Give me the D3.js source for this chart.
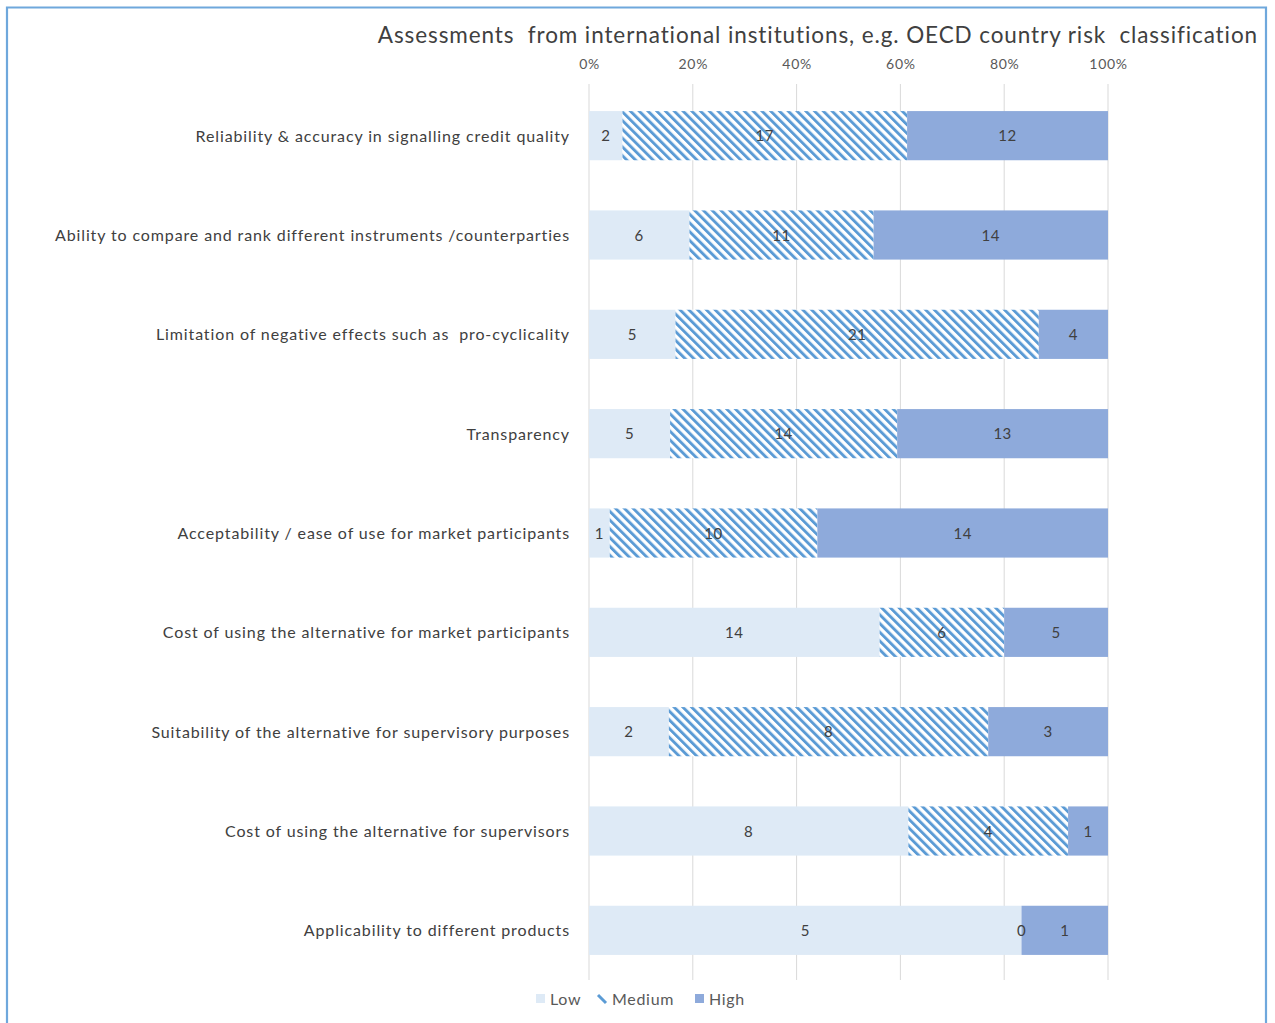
<!DOCTYPE html>
<html><head><meta charset="utf-8">
<script src="https://cdn.jsdelivr.net/npm/d3@7"></script>
<style>body{margin:0;background:#fff}svg{display:block}text{white-space:pre}</style>
</head><body>
<script>
const title = "Assessments  from international institutions, e.g. OECD country risk  classification";
const categories = [
  "Reliability & accuracy in signalling credit quality",
  "Ability to compare and rank different instruments /counterparties",
  "Limitation of negative effects such as  pro-cyclicality",
  "Transparency",
  "Acceptability / ease of use for market participants",
  "Cost of using the alternative for market participants",
  "Suitability of the alternative for supervisory purposes",
  "Cost of using the alternative for supervisors",
  "Applicability to different products"
];
const seriesNames = ["Low", "Medium", "High"];
const low =    [2, 6, 5, 5, 1, 14, 2, 8, 5];
const medium = [17, 11, 21, 14, 10, 6, 8, 4, 0];
const high =   [12, 14, 4, 13, 14, 5, 3, 1, 1];
const tickValues = [0, 0.2, 0.4, 0.6, 0.8, 1.0];
const tickLabels = ["0%", "20%", "40%", "60%", "80%", "100%"];

const W = 1275, H = 1023;
const svg = d3.select("body").append("svg").attr("width", W).attr("height", H);
const font = "Lato, 'Open Sans', sans-serif";

const defs = svg.append("defs");
const P = 6.2;
const pat = defs.append("pattern").attr("id", "hatch").attr("patternUnits", "userSpaceOnUse")
  .attr("width", P).attr("height", P).attr("patternTransform", "rotate(-45)");
pat.append("rect").attr("width", P).attr("height", P).attr("fill", "#fff");
pat.append("rect").attr("x", 0).attr("y", 0).attr("width", 2.9).attr("height", P).attr("fill", "#5B9BD5");

// border
svg.append("path").attr("d", `M7,${H+5} L7,7.5 L1266,7.5 L1266,${H+5}`)
  .attr("fill", "none").attr("stroke", "#6FA8DC").attr("stroke-width", 2.2);

const x = d3.scaleLinear().domain([0, 1]).range([589, 1108]);
const y = d3.scaleBand().domain(categories).range([86, 980]).paddingInner(0.505).paddingOuter(0.2525);

svg.append("text").attr("x", 1258).attr("y", 43).attr("text-anchor", "end")
  .attr("font-family", font).attr("font-size", 22.5).attr("letter-spacing", 0.9).attr("fill", "#404040").text(title);

// gridlines
svg.append("g").selectAll("line").data(tickValues).join("line")
  .attr("x1", d => x(d)).attr("x2", d => x(d)).attr("y1", 84).attr("y2", 980)
  .attr("stroke", "#D9D9D9").attr("stroke-width", 1);

// axis on top
const axis = d3.axisTop(x).tickValues(tickValues).tickFormat((d, i) => tickLabels[i]).tickSize(0).tickPadding(0);
const ag = svg.append("g").attr("transform", "translate(0,69)").call(axis);
ag.select(".domain").remove();
ag.selectAll("text").attr("font-family", font).attr("font-size", 14).attr("letter-spacing", 0.7).attr("fill", "#595959");

const rows = categories.map((c, i) => ({cat: c, vals: [low[i], medium[i], high[i]]}));
const fills = ["#DEEAF6", "url(#hatch)", "#8EAADB"];

rows.forEach(r => {
  const tot = d3.sum(r.vals);
  let acc = 0;
  r.segs = r.vals.map((v, k) => { const s = {k, v, x0: acc / tot, x1: (acc + v) / tot}; acc += v; return s; });
});

const g = svg.append("g");
const rg = g.selectAll("g.row").data(rows).join("g").attr("class", "row");
rg.selectAll("rect").data(r => r.segs.map(s => ({...s, cat: r.cat}))).join("rect")
  .attr("x", d => x(d.x0)).attr("width", d => x(d.x1) - x(d.x0))
  .attr("y", d => y(d.cat)).attr("height", y.bandwidth())
  .attr("fill", d => fills[d.k]);
rg.selectAll("text").data(r => r.segs.map(s => ({...s, cat: r.cat}))).join("text")
  .attr("x", d => (x(d.x0) + x(d.x1)) / 2).attr("y", d => y(d.cat) + y.bandwidth() / 2 + 5.5)
  .attr("text-anchor", "middle").attr("font-family", font).attr("font-size", 15).attr("letter-spacing", 0.5).attr("fill", "#404040")
  .text(d => d.v);

// category labels
svg.append("g").selectAll("text").data(categories).join("text")
  .attr("x", 570).attr("y", d => y(d) + y.bandwidth() / 2 + 6)
  .attr("text-anchor", "end").attr("font-family", font).attr("font-size", 16).attr("letter-spacing", 0.88).attr("fill", "#404040")
  .text(d => d);

// legend
const leg = svg.append("g");
const lx = [535, 597, 694];
seriesNames.forEach((n, i) => {
  if (i === 1) {
    leg.append("path").attr("d", `M${lx[i]+1},${995} L${lx[i]+9},${1003}`).attr("stroke", "#5B9BD5").attr("stroke-width", 3);
  } else {
    leg.append("rect").attr("x", lx[i] + 1).attr("y", 994).attr("width", 9).attr("height", 9).attr("fill", fills[i]);
  }
  leg.append("text").attr("x", lx[i] + 15).attr("y", 1004.5).attr("font-family", font).attr("font-size", 16).attr("letter-spacing", 0.7)
    .attr("fill", "#595959").text(n);
});
</script>
</body></html>
